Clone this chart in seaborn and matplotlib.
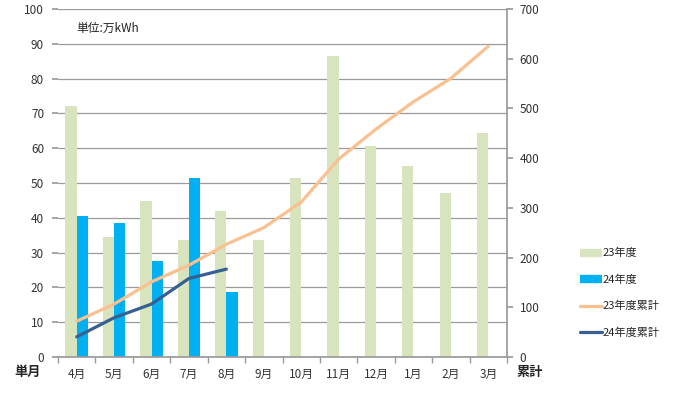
import numpy as np
import pandas as pd
import matplotlib.pyplot as plt
import seaborn as sns
from matplotlib.lines import Line2D
from matplotlib.ticker import MultipleLocator, FixedLocator

# ── Data ──
months = ["4月", "5月", "6月", "7月", "8月", "9月", "10月", "11月", "12月", "1月", "2月", "3月"]
fy23_monthly = [72.0, 34.5, 44.7, 33.5, 42.0, 33.5, 51.3, 86.5, 60.5, 55.0, 47.0, 64.5]
fy24_monthly = [40.5, 38.5, 27.5, 51.5, 18.8]
fy23_cumulative = [72.0, 106.5, 151.2, 184.7, 226.7, 260.2, 311.5, 398.0, 458.5, 513.5, 560.5, 625.0]
fy24_cumulative = [40.5, 79.0, 106.5, 158.0, 176.8]

C23_BAR = "#d7e4bd"
C24_BAR = "#00b0f0"
C23_LINE = "#fac090"
C24_LINE = "#376092"
GRID = "#9a9a9a"

sns.set_theme(style="white")
plt.rcParams["font.family"] = ["Noto Sans CJK JP", "DejaVu Sans"]

bars = pd.DataFrame({
    "month": months + months[:len(fy24_monthly)],
    "value": fy23_monthly + fy24_monthly,
    "year": ["23年度"] * len(months) + ["24年度"] * len(fy24_monthly),
})
lines = pd.DataFrame({
    "x": list(range(len(months))) + list(range(len(fy24_cumulative))),
    "value": fy23_cumulative + fy24_cumulative,
    "year": ["23年度累計"] * len(months) + ["24年度累計"] * len(fy24_cumulative),
})

fig = plt.figure(figsize=(6.94, 3.95), dpi=100)
ax = fig.add_axes([58 / 694, 1 - 357 / 395, (507 - 58) / 694, (357 - 9) / 395])

sns.barplot(data=bars, x="month", y="value", hue="year", order=months,
            hue_order=["23年度", "24年度"], palette=[C23_BAR, C24_BAR],
            width=0.6, gap=0, saturation=1, linewidth=0, ax=ax, legend=False, zorder=2)

ax.set_xlim(-0.5, len(months) - 0.5)
ax.set_ylim(0, 100)
ax.yaxis.set_major_locator(MultipleLocator(10))
ax.yaxis.grid(True, color=GRID, linewidth=0.9, zorder=0)
ax.set_axisbelow(True)
ax.set_xlabel("")
ax.set_ylabel("")
for s in ["top", "left", "right"]:
    ax.spines[s].set_visible(False)
ax.spines["bottom"].set_color(GRID)
ax.xaxis.set_minor_locator(FixedLocator(np.arange(-0.5, len(months), 1.0)))
ax.tick_params(axis="x", which="major", length=0, pad=8, labelsize=8.5, colors="#333333")
ax.tick_params(axis="x", which="minor", length=4, color=GRID, direction="out", bottom=True)
ax.tick_params(axis="y", length=4, color=GRID, pad=6, labelsize=8.5, colors="#333333", left=True)

ax2 = ax.twinx()
sns.lineplot(data=lines, x="x", y="value", hue="year",
             hue_order=["23年度累計", "24年度累計"], palette=[C23_LINE, C24_LINE],
             linewidth=2.3, ax=ax2, legend=False)
ax2.set_ylim(0, 700)
ax2.yaxis.set_major_locator(MultipleLocator(100))
ax2.set_xlim(-0.5, len(months) - 0.5)
ax2.set_xlabel("")
ax2.set_ylabel("")
for s in ["top", "left", "bottom"]:
    ax2.spines[s].set_visible(False)
ax2.spines["right"].set_color(GRID)
ax2.tick_params(axis="y", length=4, color=GRID, pad=5, labelsize=8.5, colors="#333333", right=True)

# annotations
ax.text(0.04, 0.945, "単位:万kWh", transform=ax.transAxes, fontsize=8.5, color="#222222",
        ha="left", va="center")
fig.text(28 / 694, 1 - 372 / 395, "単月", fontsize=9.5, fontweight="bold", ha="center", va="center")
fig.text(530 / 694, 1 - 372 / 395, "累計", fontsize=9.5, fontweight="bold", ha="center", va="center")

# legend
handles = [
    Line2D([], [], color=C23_BAR, linewidth=6, solid_capstyle="butt"),
    Line2D([], [], color=C24_BAR, linewidth=6, solid_capstyle="butt"),
    Line2D([], [], color=C23_LINE, linewidth=2.3),
    Line2D([], [], color=C24_LINE, linewidth=2.3),
]
fig.legend(handles, ["23年度", "24年度", "23年度累計", "24年度累計"],
           loc="center left", bbox_to_anchor=(574 / 694, 1 - 293 / 395),
           frameon=False, fontsize=8, handlelength=2.0, handletextpad=0.1,
           labelspacing=1.45, borderpad=0)

fig.savefig("out.png", dpi=100, facecolor="white")
